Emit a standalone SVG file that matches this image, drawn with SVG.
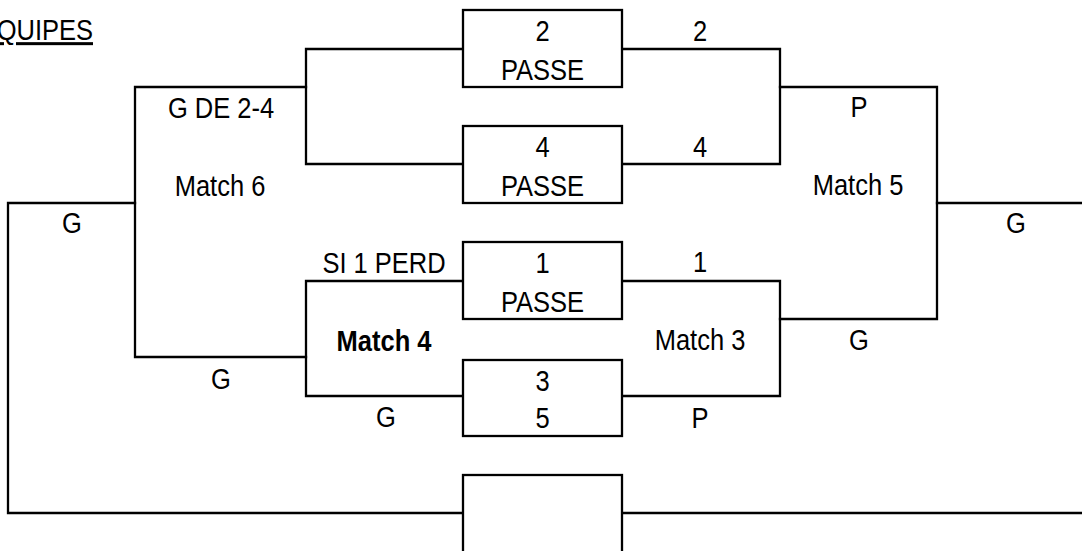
<svg xmlns="http://www.w3.org/2000/svg" width="1082" height="551" viewBox="0 0 1082 551">
<style>
.ln{fill:none;stroke:#000;stroke-width:2.3;stroke-linejoin:miter;stroke-linecap:square}
.bx{fill:#fff;stroke:#000;stroke-width:2.3}
text{font-family:"Liberation Sans",Arial,sans-serif;font-size:30px;fill:#000;text-anchor:middle}
.b{font-weight:bold}
</style>
<rect width="1082" height="551" fill="#fff"/>
<g id="connectors">
<path class="ln" d="M463,49 H306 V164 H463"/>
<path class="ln" d="M306,87 H135 V357 H306"/>
<path class="ln" d="M135,203 H8 V513 H463"/>
<path class="ln" d="M622,513 H1082"/>
<path class="ln" d="M463,281 H306 V396 H463"/>
<path class="ln" d="M622,49 H780 V164 H622"/>
<path class="ln" d="M780,87 H937 V319 H780"/>
<path class="ln" d="M937,203 H1082"/>
<path class="ln" d="M622,281 H780 V396 H622"/>
</g>
<g id="title">
<text transform="translate(93,40) scale(0.85,1)" style="text-anchor:end" text-decoration="underline">QUIPES</text>
</g>
<g id="box2">
<rect class="bx" x="463" y="10" width="159" height="77"/>
<text transform="translate(542.5,41) scale(0.85,1)">2</text>
<text transform="translate(542.5,80) scale(0.85,1)">PASSE</text>
</g>
<g id="box4">
<rect class="bx" x="463" y="126" width="159" height="77"/>
<text transform="translate(542.5,157) scale(0.85,1)">4</text>
<text transform="translate(542.5,196) scale(0.85,1)">PASSE</text>
</g>
<g id="box1">
<rect class="bx" x="463" y="242" width="159" height="77"/>
<text transform="translate(542.5,273) scale(0.85,1)">1</text>
<text transform="translate(542.5,312) scale(0.85,1)">PASSE</text>
</g>
<g id="box3">
<rect class="bx" x="463" y="360" width="159" height="76"/>
<text transform="translate(542.5,391) scale(0.85,1)">3</text>
<text transform="translate(542.5,428) scale(0.85,1)">5</text>
</g>
<g id="box-final">
<rect class="bx" x="463" y="475" width="159" height="90"/>
</g>
<g id="match6">
<text transform="translate(221,118) scale(0.85,1)">G DE 2-4</text>
<text transform="translate(220,196) scale(0.85,1)">Match 6</text>
<text transform="translate(72,233) scale(0.85,1)">G</text>
<text transform="translate(221,389) scale(0.85,1)">G</text>
</g>
<g id="match4">
<text transform="translate(384,273) scale(0.85,1)">SI 1 PERD</text>
<text class="b" transform="translate(384,351) scale(0.85,1)">Match 4</text>
<text transform="translate(386,427) scale(0.85,1)">G</text>
</g>
<g id="match5">
<text transform="translate(700,41) scale(0.85,1)">2</text>
<text transform="translate(700,157) scale(0.85,1)">4</text>
<text transform="translate(859,117) scale(0.85,1)">P</text>
<text transform="translate(858,195) scale(0.85,1)">Match 5</text>
<text transform="translate(1016,233) scale(0.85,1)">G</text>
</g>
<g id="match3">
<text transform="translate(700,272) scale(0.85,1)">1</text>
<text transform="translate(700,350) scale(0.85,1)">Match 3</text>
<text transform="translate(859,350) scale(0.85,1)">G</text>
<text transform="translate(700,428) scale(0.85,1)">P</text>
</g>
</svg>
